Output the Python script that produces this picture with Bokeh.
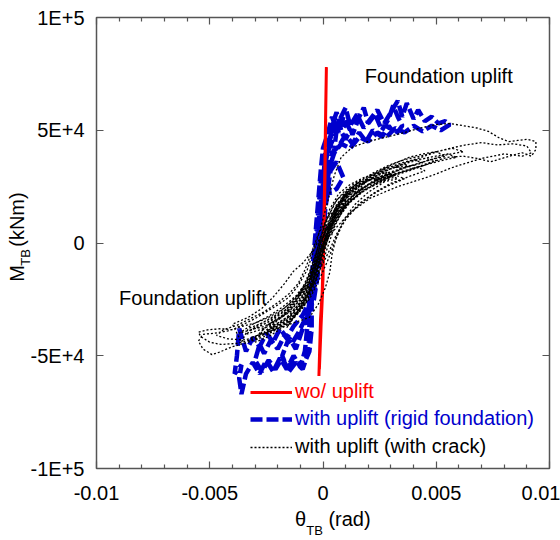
from bokeh.plotting import figure
from bokeh.models import Range1d, FixedTicker, LinearAxis, Label, Legend, LegendItem, AllLabels
from bokeh.embed import file_html
from bokeh.resources import INLINE

FONT = "Liberation Sans"

# ---------------- data ----------------
x_ticks = [-0.01, -0.005, 0, 0.005, 0.01]
x_tick_labels = ["-0.01", "-0.005", "0", "0.005", "0.01"]
x_minor_ticks = [-0.009, -0.008, -0.007, -0.006, -0.004, -0.003, -0.002, -0.001,
                 0.001, 0.002, 0.003, 0.004, 0.006, 0.007, 0.008, 0.009]
y_ticks = [-100000, -50000, 0, 50000, 100000]
y_tick_labels = ["-1E+5", "-5E+4", "0", "5E+4", "1E+5"]

# wo/ uplift (red)
red_path = [(-0.00018, -59000), (-0.00011, -34000), (0.0, -16000), (0.00005, 10000),
            (0.0001, 45000), (0.00015, 78000), (0.00012, 60000), (0.00008, 32000),
            (0.00003, 5000), (-0.00003, -20000), (-0.00009, -38000), (-0.00016, -56000),
            (-0.0001, -40000), (-0.00002, -22000), (0.00004, 2000), (0.00009, 30000),
            (0.00012, 55000)]

# with uplift, rigid foundation (blue)
blue_path = [
    (0.0, 0), (-0.0001, 12000), (0.0, 25000), (0.0001, 38000), (0.0003, 47000), (0.0005, 55000),
    (0.0007, 49000), (0.0009, 56000), (0.0012, 50000), (0.0010, 46000), (0.0007, 51000),
    (0.0004, 45000), (0.0002, 40000), (0.0, 30000), (-0.0001, 18000), (-0.0002, 5000),
    (-0.0003, -8000), (-0.0004, -20000), (-0.0006, -30000), (-0.0009, -38000), (-0.0012, -47000),
    (-0.0015, -42000), (-0.0018, -50000), (-0.0016, -55000), (-0.0012, -52000), (-0.0009, -55000),
    (-0.0006, -48000), (-0.0005, -38000), (-0.0005, -26000), (-0.0004, -12000), (-0.0003, 0),
    (-0.0002, 12000), (-0.0001, 24000), (0.0001, 36000), (0.0003, 44000), (0.0004, 52000),
    (0.0006, 58000), (0.0008, 50000), (0.0011, 54000), (0.0013, 48000), (0.0016, 56000),
    (0.0018, 60000), (0.0020, 53000), (0.0023, 57000), (0.0026, 50000), (0.0029, 55000),
    (0.0031, 61000), (0.0033, 56000), (0.0035, 52000), (0.0032, 48000), (0.0029, 52000),
    (0.0026, 47000), (0.0022, 50000), (0.0019, 45000), (0.0016, 49000), (0.0013, 44000),
    (0.0010, 48000), (0.0007, 43000), (0.0004, 40000), (0.0002, 32000), (0.0, 20000),
    (-0.0001, 8000), (-0.0002, -5000), (-0.0003, -17000), (-0.0005, -27000), (-0.0008, -34000),
    (-0.0011, -40000), (-0.0014, -45000), (-0.0017, -41000), (-0.0020, -47000), (-0.0023, -43000),
    (-0.0026, -49000), (-0.0028, -45000), (-0.0030, -52000), (-0.0027, -57000), (-0.0024, -52000),
    (-0.0021, -56000), (-0.0018, -51000), (-0.0015, -57000), (-0.0012, -53000), (-0.0009, -56000),
    (-0.0007, -50000), (-0.0006, -42000), (-0.0006, -32000), (-0.0005, -22000), (-0.0004, -10000),
    (-0.0003, 3000), (-0.0002, 15000), (-0.0001, 27000), (0.0002, 30000), (0.0006, 36000),
    (0.0009, 29000), (0.0006, 24000), (0.0003, 22000), (0.0001, 33000), (0.0002, 42000),
    (0.0004, 49000), (0.0007, 54000), (0.0010, 60000), (0.0012, 52000), (0.0015, 57000),
    (0.0018, 51000), (0.0021, 55000), (0.0024, 59000), (0.0027, 53000), (0.0030, 58000),
    (0.0033, 63000), (0.0035, 56000), (0.0037, 62000), (0.0040, 55000), (0.0042, 59000),
    (0.0045, 54000), (0.0048, 56000), (0.0051, 53000), (0.0054, 54000), (0.0056, 52500),
    (0.0052, 50000), (0.0048, 52000), (0.0044, 49500), (0.0040, 52000), (0.0036, 49000),
    (0.0032, 51000), (0.0028, 47000), (0.0024, 49000), (0.0020, 45000), (0.0016, 47000),
    (0.0012, 42000), (0.0008, 44000), (0.0005, 40000), (0.0003, 34000), (0.0001, 22000),
    (-0.0001, 8000), (-0.0002, -6000), (-0.0004, -18000), (-0.0006, -26000), (-0.0009, -32000),
    (-0.0013, -37000), (-0.0016, -42000), (-0.0019, -38000), (-0.0022, -44000), (-0.0025, -40000),
    (-0.0028, -46000), (-0.0031, -42000), (-0.0034, -48000), (-0.0037, -38000), (-0.0038, -50000),
    (-0.0039, -58000), (-0.0036, -54000), (-0.0037, -60000), (-0.0036, -67000), (-0.0034, -58000),
    (-0.0031, -53000), (-0.0028, -58000), (-0.0025, -52000), (-0.0022, -57000), (-0.0019, -51000),
    (-0.0016, -56000), (-0.0013, -50000), (-0.0010, -55000), (-0.0008, -48000), (-0.0007, -38000),
    (-0.0006, -28000), (-0.0005, -16000), (-0.0004, -4000), (-0.0003, 8000), (-0.0002, 20000),
    (-0.0001, 32000), (0.0, 42000), (0.0002, 48000), (0.0004, 56000), (0.0006, 50000),
    (0.0005, 42000), (0.0003, 30000), (0.0001, 15000), (0.0, 0), (-0.0002, -12000),
    (-0.0004, -25000), (-0.0007, -33000), (-0.0005, -20000), (-0.0003, -6000), (-0.0002, 9000),
    (0.0, 26000), (0.0001, 40000),
]

# with uplift, with crack (black dotted)
black_path = [
    (-0.0015, -36000), (-0.0010, -28000), (-0.0006, -20000), (-0.0003, -11000), (0.0, -2000),
    (0.0003, 6000), (0.0007, 13000), (0.0012, 19500), (0.0016, 24000), (0.0020, 28000),
    (0.0016, 27000), (0.0011, 23500), (0.0006, 17000), (0.0002, 8000), (-0.0002, -2000),
    (-0.0005, -13000), (-0.0008, -24000), (-0.0012, -32000), (-0.0016, -37500),
    (-0.0011, -30000), (-0.0006, -22000), (-0.0002, -10000), (0.0001, -1000), (0.0005, 8000),
    (0.0010, 16000), (0.0016, 22500), (0.0022, 27500), (0.0028, 31000), (0.0035, 33000),
    (0.0030, 34000), (0.0024, 32000), (0.0018, 28500), (0.0012, 24000), (0.0007, 17000),
    (0.0003, 8000), (-0.0001, -3000), (-0.0004, -14000), (-0.0007, -24000), (-0.0011, -31000),
    (-0.0017, -37000), (-0.0024, -41500), (-0.0030, -44000),
    (-0.0026, -38000), (-0.0020, -34000), (-0.0014, -29000), (-0.0009, -23000), (-0.0005, -15000),
    (-0.0002, -6000), (0.0001, 3000), (0.0005, 11000), (0.0010, 18000), (0.0016, 23500),
    (0.0023, 28000), (0.0030, 31500), (0.0038, 34000), (0.0046, 36500), (0.0054, 39000),
    (0.0062, 40500), (0.0057, 42000), (0.0050, 40500), (0.0043, 38500), (0.0036, 37000),
    (0.0029, 34500), (0.0022, 31000), (0.0015, 26500), (0.0009, 21000), (0.0004, 12000),
    (0.0, 2000), (-0.0003, -9000), (-0.0006, -19000), (-0.0010, -27000), (-0.0016, -34000),
    (-0.0023, -39000), (-0.0030, -42500), (-0.0038, -44500), (-0.0045, -45000), (-0.0050, -44000),
    (-0.0054, -41500), (-0.0055, -39500), (-0.0051, -38500), (-0.0045, -38000), (-0.0040, -38500),
    (-0.0035, -36000), (-0.0030, -33500), (-0.0025, -30500), (-0.0020, -27500), (-0.0015, -24000),
    (-0.0011, -19000), (-0.0007, -12000), (-0.0004, -3000), (-0.0001, 7000), (0.0002, 18000),
    (0.0005, 30000), (0.0008, 38000), (0.0013, 42500), (0.0020, 45000), (0.0028, 47000),
    (0.0036, 49000), (0.0043, 51000), (0.0050, 52500), (0.0056, 53000), (0.0062, 52000),
    (0.0068, 51000), (0.0073, 49500), (0.0078, 46500), (0.0082, 45000), (0.0086, 45500),
    (0.0090, 46000), (0.0094, 45000), (0.0094, 41500), (0.0092, 38500), (0.0088, 40000),
    (0.0084, 39000), (0.0079, 37500), (0.0074, 36000), (0.0068, 37500), (0.0062, 38500),
    (0.0055, 38000), (0.0048, 36000), (0.0041, 33500), (0.0034, 31500), (0.0027, 29000),
    (0.0020, 26000), (0.0014, 21500), (0.0009, 15000), (0.0005, 7000), (0.0002, -2000),
    (-0.0001, -11000), (-0.0004, -20000), (-0.0008, -27500), (-0.0013, -33000), (-0.0019, -37500),
    (-0.0026, -41500), (-0.0033, -44000), (-0.0040, -46000), (-0.0046, -48500), (-0.0049, -49500),
    (-0.0053, -47000), (-0.0055, -43500), (-0.0053, -40500), (-0.0048, -40000),
    (-0.0042, -39000), (-0.0036, -37000), (-0.0030, -35500), (-0.0024, -33000), (-0.0018, -29500),
    (-0.0013, -25500), (-0.0009, -21000), (-0.0005, -14000), (-0.0002, -6000), (0.0002, 2000),
    (0.0006, 7000), (0.0012, 13500), (0.0021, 20000), (0.0033, 25000), (0.0047, 29500),
    (0.0058, 33800), (0.0070, 37500), (0.0080, 39500), (0.0088, 38500), (0.0092, 40000),
    (0.0090, 43000), (0.0084, 44000), (0.0077, 43500), (0.0070, 44500), (0.0063, 43500),
    (0.0056, 42000), (0.0049, 40000), (0.0042, 37500), (0.0035, 35500), (0.0028, 33000),
    (0.0021, 29500), (0.0015, 25500), (0.0010, 21500), (0.0006, 15500), (0.0003, 7000),
    (0.0, -3000), (-0.0003, -13000), (-0.0006, -22000), (-0.0010, -29000), (-0.0015, -34500),
    (-0.0021, -38500), (-0.0028, -41500), (-0.0035, -43000), (-0.0042, -42500), (-0.0047, -41000),
    (-0.0044, -38500),
    (-0.0038, -36500), (-0.0032, -33500), (-0.0026, -30500), (-0.0020, -26500), (-0.0015, -22500),
    (-0.0011, -18000), (-0.0008, -12000), (-0.0005, -4000), (-0.0002, 4000), (0.0002, 11000),
    (0.0007, 17000), (0.0013, 22000), (0.0020, 26000), (0.0027, 29500), (0.0034, 32500),
    (0.0041, 35000), (0.0048, 37000), (0.0054, 38500), (0.0050, 40500), (0.0044, 39500),
    (0.0038, 38000), (0.0031, 35000), (0.0024, 31500), (0.0017, 27000), (0.0011, 22500),
    (0.0006, 16000), (0.0002, 6000), (0.0, 5000), (-0.0004, -3000), (-0.0009, -9000),
    (-0.0013, -12500), (-0.0017, -18000), (-0.0022, -24000), (-0.0027, -29000), (-0.0033, -33000),
    (-0.0040, -36000), (-0.0036, -44000),
    (-0.0033, -38000), (-0.0027, -35500), (-0.0021, -32000), (-0.0016, -28000), (-0.0011, -23000),
    (-0.0007, -17000), (-0.0004, -9000), (-0.0001, 0), (0.0003, 9000), (0.0008, 16500),
    (0.0014, 22000), (0.0021, 26500), (0.0028, 30000), (0.0036, 33500), (0.0044, 35500),
    (0.0040, 37000), (0.0033, 35000), (0.0026, 32000), (0.0019, 28000), (0.0013, 24000),
    (0.0008, 18500), (0.0004, 11000), (0.0001, 1000), (-0.0002, -9000), (-0.0005, -18000),
    (-0.0009, -26000), (-0.0014, -32000), (-0.0020, -36500), (-0.0026, -39500),
    (-0.0021, -35000), (-0.0015, -30500), (-0.0010, -25000), (-0.0006, -18000), (-0.0003, -10000),
    (0.0, -1000), (0.0004, 8000), (0.0009, 15500), (0.0015, 21000), (0.0022, 25500),
    (0.0030, 29500), (0.0038, 32000), (0.0045, 34500), (0.0050, 36500), (0.0045, 37500),
    (0.0039, 36500), (0.0032, 34000), (0.0025, 30500), (0.0018, 26500), (0.0012, 22000),
    (0.0007, 15500), (0.0003, 6000), (0.0, -4000), (-0.0003, -14000), (-0.0006, -23000),
    (-0.0009, -29000), (-0.0013, -33500), (-0.0018, -37000), (-0.0025, -40000), (-0.0032, -42000),
    (-0.0006, -33000), (-0.0002, -27000), (0.0001, -20000), (0.0003, -13000), (0.0004, -5000),
    (0.0006, 3000), (0.0009, 10000), (0.0014, 17000), (0.0020, 22500), (0.0027, 27000),
    (0.0022, 29000), (0.0015, 25000), (0.0009, 19500), (0.0004, 10000), (0.0001, 0),
    (-0.0002, -10000), (-0.0005, -19000), (-0.0009, -27000),
    (-0.0006, -21000), (-0.0003, -13000), (0.0, -4000), (0.0003, 4000), (0.0007, 11500),
    (0.0012, 18000), (0.0018, 23000), (0.0025, 27500), (0.0032, 30500), (0.0040, 33000),
    (0.0036, 35000), (0.0029, 32500), (0.0022, 29000), (0.0016, 25000), (0.0011, 20500),
    (0.0007, 14000), (0.0003, 4500), (0.0, -6000), (-0.0003, -16000), (-0.0007, -25000),
    (-0.0012, -31500), (-0.0018, -36000), (-0.0024, -38500),
    (-0.0019, -33000), (-0.0014, -28000), (-0.0009, -22000), (-0.0005, -15500), (-0.0002, -7000),
    (0.0001, 1500), (0.0005, 9500), (0.0010, 17000), (0.0017, 22500), (0.0024, 26500),
    (0.0031, 29000), (0.0027, 31000), (0.0020, 28000), (0.0014, 24000), (0.0009, 19000),
    (0.0005, 11500), (0.0002, 2500), (-0.0001, -7500), (-0.0004, -17000), (-0.0008, -25500),
    (-0.0013, -31000), (-0.0020, -35500), (-0.0028, -38500), (-0.0034, -40500),
    (-0.0029, -36500), (-0.0023, -33500), (-0.0017, -30000), (-0.0012, -25500), (-0.0008, -20000),
    (-0.0004, -12500), (-0.0001, -3500), (0.0002, 5000), (0.0006, 12500), (0.0011, 19000),
    (0.0018, 24500), (0.0026, 28500), (0.0035, 31500), (0.0043, 34000), (0.0052, 36500),
    (0.0059, 38000), (0.0055, 39500), (0.0047, 38000), (0.0039, 36000), (0.0031, 33500),
    (0.0024, 30500), (0.0017, 26000), (0.0011, 21000), (0.0006, 14500), (0.0002, 5000),
    (-0.0001, -5500), (-0.0004, -15500), (-0.0007, -23500), (-0.0011, -30000), (-0.0016, -35000),
    (-0.0022, -38500), (-0.0029, -41000),
    (-0.0024, -36000), (-0.0018, -32500), (-0.0013, -28500), (-0.0009, -24000), (-0.0005, -17500),
    (-0.0002, -9500), (0.0001, -500), (0.0004, 6500), (0.0008, 13500), (0.0013, 19500),
    (0.0019, 24000), (0.0026, 27000), (0.0033, 28500), (0.0029, 30500), (0.0022, 28500),
    (0.0016, 25500), (0.0010, 21000), (0.0006, 16500), (0.0002, 9000), (-0.0001, 0),
    (-0.0004, -10500), (-0.0007, -19500), (-0.0011, -27500), (-0.0016, -33000), (-0.0023, -37500),
    (-0.0020, -36000), (-0.0012, -31000), (-0.0006, -25000), (-0.0002, -17000), (0.0002, -8000),
    (0.0005, 0), (0.0008, 7000), (0.0011, 12000), (0.0016, 17500), (0.0023, 22500),
    (0.0030, 26500), (0.0038, 29500), (0.0045, 32000), (0.0040, 34500), (0.0032, 33500),
    (0.0025, 31500), (0.0018, 29000), (0.0012, 26000), (0.0007, 22000), (0.0003, 15000),
    (0.0, 6000), (-0.0003, -4000), (-0.0006, -13000), (-0.0009, -20000), (-0.0013, -26000),
    (-0.0018, -31000), (-0.0025, -35500), (-0.0032, -38500),
    (-0.0026, -37000), (-0.0019, -33500), (-0.0013, -29500), (-0.0008, -24500), (-0.0004, -18000),
    (-0.0001, -11000), (0.0003, -3000), (0.0006, 4000), (0.0010, 10500), (0.0015, 16000),
    (0.0021, 21000), (0.0028, 25000), (0.0036, 28500), (0.0031, 30500), (0.0024, 29000),
    (0.0017, 26500), (0.0011, 23500), (0.0006, 19000), (0.0002, 11000), (-0.0001, 2000),
    (-0.0004, -7500), (-0.0007, -16000), (-0.0011, -23500), (-0.0016, -29500), (-0.0022, -34000),
    (-0.0030, -38000), (-0.0037, -40000),
    (-0.0031, -36000), (-0.0024, -32500), (-0.0018, -28500), (-0.0012, -23500), (-0.0007, -17000),
    (-0.0004, -10000), (-0.0001, -2000), (0.0003, 6500), (0.0007, 13000), (0.0012, 18500),
    (0.0018, 23500), (0.0025, 27500), (0.0032, 30000), (0.0027, 31500), (0.0020, 29500),
    (0.0014, 26500), (0.0009, 22500), (0.0005, 17500), (0.0001, 9000), (-0.0002, -1000),
    (-0.0005, -11000), (-0.0008, -19000), (-0.0012, -26000), (-0.0017, -31500), (-0.0024, -36000),
]

red_x = [pt[0] for pt in red_path]
red_y = [pt[1] for pt in red_path]
blue_x = [pt[0] for pt in blue_path]
blue_y = [pt[1] for pt in blue_path]
black_x = [pt[0] for pt in black_path]
black_y = [pt[1] for pt in black_path]

# axis-title pieces and where along each axis they sit
x_title_parts = ["θ", "(rad)"]
x_title_at = [-0.00099, 0.00117]
x_title_sub = ["TB"]
x_title_sub_at = [-0.000375]
y_title_parts = ["M", "(kNm)"]
y_title_at = [-13470, 10400]
y_title_sub = ["TB"]
y_title_sub_at = [-6400]

# ---------------- figure ----------------
p = figure(width=560, height=540, x_range=Range1d(-0.01, 0.01), y_range=Range1d(-100000, 100000),
           output_backend="svg", toolbar_location=None,
           min_border_left=96, min_border_right=11, min_border_top=17, min_border_bottom=70,
           background_fill_color="white", border_fill_color="white")
p.grid.visible = False
p.outline_line_color = "#555555"
p.outline_line_width = 1.5

AX = "#555555"
main_x = p.below[0]
main_y = p.left[0]

def style_axis(ax, show_labels, ticker):
    ax.ticker = ticker
    ax.axis_line_color = None
    ax.major_tick_line_color = AX
    ax.minor_tick_line_color = AX
    ax.major_tick_line_width = 1.2
    ax.minor_tick_line_width = 1.2
    ax.major_tick_in = 7
    ax.major_tick_out = 0
    ax.minor_tick_in = 4
    ax.minor_tick_out = 0
    ax.major_label_text_font = FONT
    if show_labels:
        ax.major_label_text_font_size = "20px"
        ax.major_label_text_color = "black"
    else:
        ax.major_label_text_font_size = "2px"
        ax.major_label_text_color = None
        ax.major_label_standoff = 0

style_axis(main_x, True, FixedTicker(ticks=x_ticks, minor_ticks=x_minor_ticks))
main_x.major_label_overrides = dict(zip(x_ticks, x_tick_labels))
main_x.major_label_standoff = 17
style_axis(main_y, True, FixedTicker(ticks=y_ticks, minor_ticks=[]))
main_y.major_label_overrides = dict(zip(y_ticks, y_tick_labels))
main_y.major_label_standoff = 12

top_ax = LinearAxis()
style_axis(top_ax, False, FixedTicker(ticks=x_ticks, minor_ticks=x_minor_ticks))
p.add_layout(top_ax, "above")
right_ax = LinearAxis()
style_axis(right_ax, False, FixedTicker(ticks=y_ticks, minor_ticks=[]))
p.add_layout(right_ax, "right")

# axis titles built from label-only axes (allows the TB subscript)
def title_axis(place, at, texts, size, standoff, orientation="horizontal"):
    ax = LinearAxis(ticker=FixedTicker(ticks=at, minor_ticks=[]),
                    major_label_overrides=dict(zip(at, texts)),
                    major_label_policy=AllLabels(),
                    major_label_standoff=standoff, major_label_text_font=FONT,
                    major_label_text_font_size=size, major_label_text_color="black",
                    major_label_orientation=orientation,
                    major_tick_in=0, major_tick_out=0, minor_tick_in=0, minor_tick_out=0,
                    axis_line_color=None, major_tick_line_color=None, minor_tick_line_color=None)
    p.add_layout(ax, place)

title_axis("below", x_title_sub_at, x_title_sub, "13px", 20)
title_axis("below", x_title_at, x_title_parts, "20px", -33)
title_axis("left", y_title_sub_at, y_title_sub, "13px", -6, "vertical")
title_axis("left", y_title_at, y_title_parts, "20px", -13, "vertical")

BLUE = "#0000cd"
RED = "#ff0000"

r_blue = p.line(blue_x, blue_y, line_color=BLUE, line_width=4.5, line_dash="12 4")
r_red = p.line(red_x, red_y, line_color=RED, line_width=3)
r_black = p.line(black_x, black_y, line_color="black", line_width=1.3, line_dash="2 2")

def make_legend(label, renderer, color, loc):
    return Legend(items=[LegendItem(label=label, renderers=[renderer])], location=loc,
                  label_text_color=color, label_text_font=FONT, label_text_font_size="20px",
                  border_line_color=None, background_fill_alpha=0, padding=0, margin=0,
                  spacing=0, glyph_width=42, glyph_height=20, label_height=20, label_standoff=3)

p.add_layout(make_legend("wo/ uplift", r_red, RED, (154, 65)))
p.add_layout(make_legend("with uplift (rigid foundation)", r_blue, BLUE, (154, 38)))
p.add_layout(make_legend("with uplift (with crack)", r_black, "black", (154, 10)))

def add_text(x, y, text, size="20px"):
    p.add_layout(Label(x=x, y=y, text=text, text_font=FONT, text_font_size=size,
                       text_align="center", text_baseline="alphabetic", text_color="black"))

add_text(0.00511, 74100, "Foundation uplift")
add_text(-0.00574, -24300, "Foundation uplift")

open("out.html", "w").write(file_html(p, INLINE))
